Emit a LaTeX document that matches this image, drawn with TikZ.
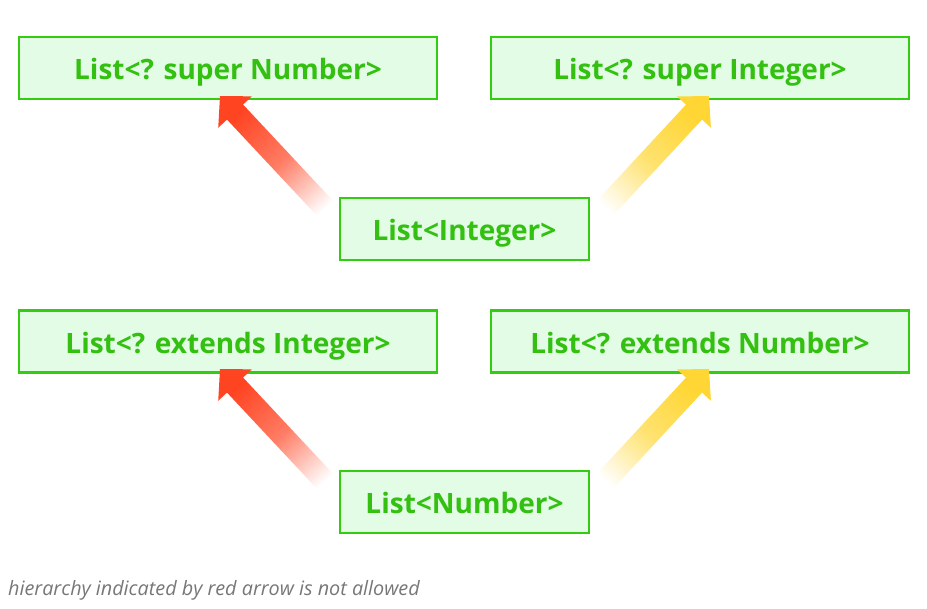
\documentclass[tikz,border=0pt]{standalone}
\usepackage{fontspec}
\setmainfont{Open Sans}
\usetikzlibrary{calc}
\definecolor{boxborder}{HTML}{33CC11}
\definecolor{boxfill}{HTML}{E2FCE6}
\definecolor{boxtext}{HTML}{33C011}
\definecolor{redarrow}{HTML}{FF4422}
\definecolor{yelarrow}{HTML}{FFD633}
\definecolor{captext}{HTML}{777777}
\tikzset{
  typebox/.style={draw=boxborder, line width=2.6pt, fill=boxfill, text=boxtext,
    font=\fontsize{28}{32}\selectfont\bfseries, minimum height=62pt, inner sep=0pt,
    text height=24pt, text depth=0pt},
  widebox/.style={typebox, minimum width=418pt},
  narrowbox/.style={typebox, minimum width=249pt},
  captionstyle/.style={text=captext, font=\fontsize{19.8}{24}\selectfont\itshape, anchor=west, inner sep=0pt}
}
\newcommand{\fadearrow}[4]{%
  \coordinate (#1hb) at ($(#2)!22pt!(#1)$);
  \shade[bottom color=white, top color=#3, middle color=#3!70!white, shading angle=#4]
    ($(#1)!11pt!90:(#2)$) -- ($(#1hb)!11pt!-90:(#1)$) -- ($(#1hb)!23pt!-90:(#1)$)
    -- (#2) -- ($(#1hb)!23pt!90:(#1)$) -- ($(#1hb)!11pt!90:(#1)$)
    -- ($(#1)!11pt!-90:(#2)$) -- cycle;
}
\begin{document}
\begin{tikzpicture}[x=1pt,y=-1pt]
\useasboundingbox (0,0) rectangle (927,609);
\fill[white] (0,0) rectangle (927,609);
% top group
\node[widebox] (sn) at (228,68) {List<? super Number>};
\node[widebox] (si) at (700,68) {List<? super Integer>};
\coordinate (r1s) at (336,220);
\coordinate (r1t) at (220,96);
\coordinate (y1s) at (594,220);
\coordinate (y1t) at (709,96);
\fadearrow{r1s}{r1t}{redarrow}{42.6}
\fadearrow{y1s}{y1t}{yelarrow}{-42.4}
\node[narrowbox] (li) at (464.5,229) {List<Integer>};
% bottom group
\node[widebox] (ei) at (228,341.5) {List<? extends Integer>};
\node[widebox] (en) at (700,341.5) {List<? extends Number>};
\coordinate (r2s) at (336,493);
\coordinate (r2t) at (220,369);
\coordinate (y2s) at (594,493);
\coordinate (y2t) at (709,369);
\fadearrow{r2s}{r2t}{redarrow}{42.6}
\fadearrow{y2s}{y2t}{yelarrow}{-42.4}
\node[narrowbox] (ln) at (464.5,502) {List<Number>};
\node[captionstyle] (cap) at (8,590) {hierarchy indicated by red arrow is not allowed};
\end{tikzpicture}
\end{document}
